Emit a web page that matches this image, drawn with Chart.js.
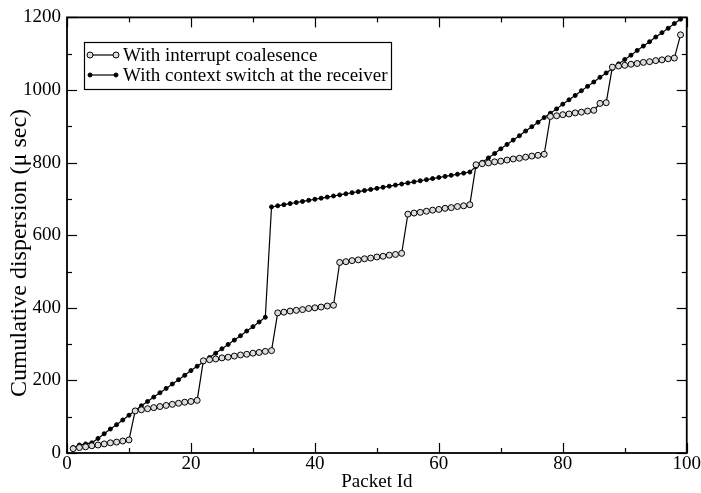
<!DOCTYPE html>
<html><head><meta charset="utf-8">
<script src="https://cdn.jsdelivr.net/npm/chart.js@4/dist/chart.umd.min.js"></script>
<style>html,body{margin:0;padding:0;background:#fff}#wrap{width:701px;height:493px}</style>
</head><body><div id="wrap"><canvas id="c" width="701" height="493"></canvas></div>
<script>
const packetIds = [1,2,3,4,5,6,7,8,9,10,11,12,13,14,15,16,17,18,19,20,21,22,23,24,25,26,27,28,29,30,31,32,33,34,35,36,37,38,39,40,41,42,43,44,45,46,47,48,49,50,51,52,53,54,55,56,57,58,59,60,61,62,63,64,65,66,67,68,69,70,71,72,73,74,75,76,77,78,79,80,81,82,83,84,85,86,87,88,89,90,91,92,93,94,95,96,97,98,99];
const coalescence = [12,15,17,20,22,25,28,30,33,36,
 116,119,122,125,128,131,134,137,140,142,145,
 254,257,259,262,264,267,270,272,275,277,280,282,
 386,388,391,393,395,398,400,402,405,407,
 525,527,530,532,535,537,540,542,545,547,550,
 658,661,663,666,669,671,674,676,679,681,684,
 794,797,799,802,804,807,810,812,815,818,820,823,
 927,929,932,934,937,939,942,944,
 963,965,
 1063,1066,1068,1071,1073,1076,1078,1081,1083,1086,1088,
 1152];
const contextSwitch = [15,22,25,28,40,53,66,78,91,104,117,130,142,154,166,178,190,202,214,227,239,251,263,275,287,299,311,323,336,348,361,374,
 678,681,684,687,690,693,696,699,702,705,708,711,714,717,720,723,726,729,732,735,738,741,744,747,750,753,756,759,762,765,768,771,774,
 789,801,813,825,838,850,862,874,887,899,911,924,936,948,961,973,985,998,1010,1022,1035,1047,1059,1072,1084,1096,1109,1121,1133,1146,1158,1170,1183,1195];
const seriesLabels = ["With interrupt coalesence","With context switch at the receiver"];
const xTickLabels = [0,20,40,60,80,100];
const yTickLabels = [0,200,400,600,800,1000,1200];
const xTitle = "Packet Id";
const yTitle = "Cumulative dispersion (μ sec)";

const FONT = "'Liberation Serif', 'Times New Roman', serif";

const pts = (ys) => ys.map((v,i)=>({x:packetIds[i], y:v}));

const frameTicks = {
  id:'frameTicks',
  afterDatasetsDraw(chart){
    const {ctx, chartArea:a, scales:{x,y}} = chart;
    ctx.save();
    ctx.strokeStyle='#000';
    const line=(x1,y1,x2,y2)=>{ctx.beginPath();ctx.moveTo(x1,y1);ctx.lineTo(x2,y2);ctx.stroke();};
    ctx.lineWidth=1.2;
    for(let v=0; v<=100; v+=10){
      const p=Math.round(x.getPixelForValue(v))+0.5;
      const L = (v%20===0)?10:5;
      line(p,a.bottom,p,a.bottom-L);
      line(p,a.top,p,a.top+L);
    }
    for(let v=0; v<=1200; v+=100){
      const p=Math.round(y.getPixelForValue(v))+0.5;
      const L = (v%200===0)?10:5;
      line(a.left,p,a.left+L,p);
      line(a.right,p,a.right-L,p);
    }
    ctx.lineWidth=1.8;
    ctx.strokeRect(a.left,a.top,a.right-a.left,a.bottom-a.top);
    ctx.restore();
  },
  afterDraw(chart){
    const {ctx} = chart;
    ctx.save();
    // y-axis title
    ctx.save();
    ctx.translate(20,253);
    ctx.rotate(-Math.PI/2);
    ctx.font = "24px " + FONT;
    ctx.fillStyle='#000';
    ctx.textAlign='center'; ctx.textBaseline='middle';
    ctx.fillText(yTitle,0,0);
    ctx.restore();
    // legend
    const bx=84, by=42, bw=307, bh=47;
    ctx.fillStyle='#fff';
    ctx.fillRect(bx,by,bw,bh);
    ctx.strokeStyle='#000'; ctx.lineWidth=1.2;
    ctx.strokeRect(bx+0.5,by+0.5,bw,bh);
    ctx.font = "19px " + FONT;
    ctx.textBaseline='middle';
    ctx.fillStyle='#000';
    const rows=[55,75];
    chart.data.datasets.forEach((ds,i)=>{
      const yy=rows[i];
      ctx.lineWidth=1.2; ctx.strokeStyle='#000';
      ctx.beginPath(); ctx.moveTo(90,yy); ctx.lineTo(116,yy); ctx.stroke();
      [90,116].forEach(px=>{
        ctx.beginPath(); ctx.arc(px,yy,ds.pointRadius,0,Math.PI*2);
        ctx.fillStyle=ds.pointBackgroundColor; ctx.fill();
        ctx.lineWidth=1; ctx.stroke();
      });
      ctx.fillStyle='#000';
      ctx.fillText(ds.label,123,yy+1);
    });
    ctx.restore();
  }
};

new Chart(document.getElementById('c'),{
  type:'line',
  data:{
    datasets:[
      {label:seriesLabels[0], data:pts(coalescence), borderColor:'#000', borderWidth:1.2,
       pointRadius:3, pointBackgroundColor:'#ddd', pointBorderColor:'#000', pointBorderWidth:1, tension:0, clip:false},
      {label:seriesLabels[1], data:pts(contextSwitch), borderColor:'#000', borderWidth:1.2,
       pointRadius:2, pointBackgroundColor:'#000', pointBorderColor:'#000', pointBorderWidth:1, tension:0, clip:false}
    ]
  },
  options:{
    responsive:false, animation:false, devicePixelRatio:1,
    layout:{padding:{top:14,right:14,left:0,bottom:0}},
    plugins:{legend:{display:false}, tooltip:{enabled:false}},
    scales:{
      x:{type:'linear', min:0, max:100,
        afterBuildTicks:(s)=>{s.ticks=xTickLabels.map(v=>({value:v}));},
        ticks:{color:'#000', font:{family:FONT,size:19}, padding:0, maxRotation:0, callback:(v)=>String(v)},
        grid:{display:false, drawTicks:false}, border:{display:false},
        title:{display:true, text:xTitle, color:'#000', font:{family:FONT,size:19}, padding:{top:0,bottom:0}},
        afterFit:(s)=>{s.height=40;}
      },
      y:{type:'linear', min:0, max:1200,
        afterBuildTicks:(s)=>{s.ticks=yTickLabels.map(v=>({value:v}));},
        ticks:{color:'#000', font:{family:FONT,size:19}, padding:6, callback:(v)=>String(v)},
        grid:{display:false, drawTicks:false}, border:{display:false},
        title:{display:false},
        afterFit:(s)=>{s.width=67;}
      }
    }
  },
  plugins:[frameTicks]
});
</script></body></html>
